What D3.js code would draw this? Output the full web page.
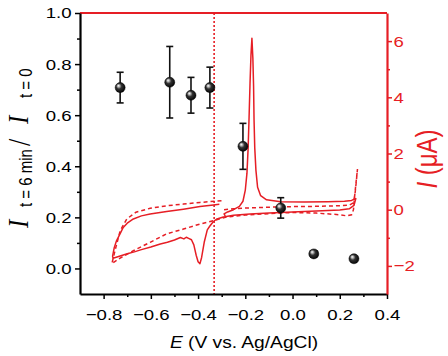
<!DOCTYPE html>
<html><head><meta charset="utf-8">
<script src="https://cdn.jsdelivr.net/npm/d3@7"></script>
<style>body{margin:0;background:#fff}svg{display:block}</style>
</head><body><svg id="c" width="448" height="356"></svg>
<script>
// ---- data ----
const ptE = [-0.73, -0.52, -0.43, -0.35, -0.21, -0.05, 0.09, 0.26];
const ptRatio = [0.708, 0.729, 0.678, 0.708, 0.478, 0.237, 0.057, 0.038];
const ptErr = [0.06, 0.14, 0.07, 0.08, 0.09, 0.04, 0.012, 0.0];

const solidE = [-0.285,-0.29,-0.275,-0.25,-0.225,-0.21,-0.2,-0.193,-0.188,-0.184,-0.18,-0.176,-0.172,-0.168,-0.165,-0.163,-0.16,-0.155,-0.148,-0.135,-0.11,-0.05,0.05,0.15,0.22,0.25,0.268,
  0.26,0.24,0.2,0.1,0.0,-0.1,-0.18,-0.25,-0.293,-0.32,-0.335,-0.35,-0.361,-0.374,-0.385,-0.392,-0.4,-0.408,-0.418,-0.428,-0.44,-0.45,-0.46,-0.475,-0.5,-0.53,-0.56,-0.6,-0.64,-0.67,-0.7,-0.73,-0.76,
  -0.762,-0.755,-0.745,-0.73,-0.717,-0.7,-0.674,-0.64,-0.603,-0.533,-0.462,-0.392,-0.335,-0.31];
const solidI = [-0.22,-0.15,-0.08,0.0,0.12,0.3,0.7,1.3,2.2,3.3,4.5,5.5,6.1,5.4,4.4,3.2,2.2,1.4,0.8,0.5,0.35,0.28,0.27,0.28,0.3,0.33,0.4,
  0.15,0.03,-0.01,-0.05,-0.08,-0.12,-0.15,-0.2,-0.26,-0.33,-0.42,-0.58,-0.72,-1.16,-1.7,-1.92,-1.85,-1.62,-1.25,-1.07,-1.02,-0.98,-1.04,-0.99,-1.08,-1.16,-1.22,-1.33,-1.42,-1.5,-1.57,-1.65,-1.73,
  -1.65,-1.35,-1.1,-0.85,-0.63,-0.48,-0.33,-0.22,-0.15,-0.06,0.02,0.11,0.17,0.19];

const dashE = [-0.29,-0.25,-0.2,-0.1,0.0,0.1,0.2,0.24,0.258,0.265,0.27,0.275,
  0.268,0.262,0.258,0.25,0.23,0.2,0.1,0.0,-0.1,-0.2,-0.28,-0.335,-0.392,-0.462,-0.533,-0.603,-0.674,-0.73,-0.765,
  -0.75,-0.73,-0.702,-0.663,-0.603,-0.533,-0.462,-0.392,-0.328,-0.3];
const dashI = [0.0,0.03,0.06,0.09,0.11,0.12,0.14,0.16,0.25,0.6,1.0,1.45,
  0.9,0.4,0.0,-0.18,-0.22,-0.18,-0.12,-0.1,-0.14,-0.19,-0.26,-0.39,-0.51,-0.69,-0.86,-1.16,-1.46,-1.72,-1.92,
  -1.4,-0.75,-0.33,-0.09,0.05,0.14,0.2,0.26,0.3,0.32];

const markerE = -0.332;
const xTicks = [-0.8,-0.6,-0.4,-0.2,0.0,0.2,0.4];
const xMinor = [-0.7,-0.5,-0.3,-0.1,0.1,0.3];
const yLTicks = [0.0,0.2,0.4,0.6,0.8,1.0];
const yLMinor = [0.1,0.3,0.5,0.7,0.9];
const yRTicks = [-2,0,2,4,6];
const yRMinor = [-1,1,3,5];

// ---- layout ----
const RED = "#e61e25";
const L = 80, R = 387, T = 13, B = 294;
const SX = 1.2; // horizontal stretch of the text in the picture
const svg = d3.select("#c");
const x = d3.scaleLinear([-0.9, 0.4], [L, R]);
const yL = d3.scaleLinear([-0.1, 1.0], [B, T]);
const yR = d3.scaleLinear([-3, 7], [B, T]);
const FONT = "'Liberation Sans', Arial, sans-serif";
const SERIF = "'Liberation Serif', 'Times New Roman', serif";

// top border
svg.append("line").attr("x1", L).attr("x2", R).attr("y1", T).attr("y2", T)
  .attr("stroke", RED).attr("stroke-width", 2);

// dotted marker
svg.append("line").attr("x1", x(markerE)).attr("x2", x(markerE)).attr("y1", T).attr("y2", B)
  .attr("stroke", RED).attr("stroke-width", 1.6).attr("stroke-dasharray", "2,2");

// CV curves
const line = d3.line().x(d => x(d[0])).y(d => yR(d[1]));
svg.append("path").datum(dashE.map((e, i) => [e, dashI[i]])).attr("d", line)
  .attr("fill", "none").attr("stroke", RED).attr("stroke-width", 1.5).attr("stroke-dasharray", "4,3");
svg.append("path").datum(solidE.map((e, i) => [e, solidI[i]])).attr("d", line)
  .attr("fill", "none").attr("stroke", RED).attr("stroke-width", 1.5).attr("stroke-linejoin", "round");

// axes
function styleAxis(g, color, w) {
  g.select(".domain").attr("stroke", color).attr("stroke-width", w);
  g.selectAll(".tick line").attr("stroke", color).attr("stroke-width", 1.5);
  g.selectAll(".tick text").attr("fill", color).style("font-family", FONT).style("font-size", "15.5px")
    .attr("transform", `scale(${SX},1)`);
}
function minor(g, color) {
  g.select(".domain").remove();
  g.selectAll(".tick line").attr("stroke", color).attr("stroke-width", 1.5);
}
minor(svg.append("g").attr("transform", `translate(0,${B})`)
  .call(d3.axisBottom(x).tickValues(xMinor).tickSize(3).tickSizeOuter(0).tickFormat("")), "#000");
const gx = svg.append("g").attr("transform", `translate(0,${B})`)
  .call(d3.axisBottom(x).tickValues(xTicks).tickSize(5).tickSizeOuter(0).tickFormat(d3.format(".1f")).tickPadding(10));
styleAxis(gx, "#000", 2.2);

minor(svg.append("g").attr("transform", `translate(${L},0)`)
  .call(d3.axisLeft(yL).tickValues(yLMinor).tickSize(3).tickSizeOuter(0).tickFormat("")), "#000");
const gy = svg.append("g").attr("transform", `translate(${L},0)`)
  .call(d3.axisLeft(yL).tickValues(yLTicks).tickSize(5).tickSizeOuter(0).tickFormat(d3.format(".1f")).tickPadding(2));
styleAxis(gy, "#000", 2.2);

minor(svg.append("g").attr("transform", `translate(${R},0)`)
  .call(d3.axisRight(yR).tickValues(yRMinor).tickSize(3).tickSizeOuter(0).tickFormat("")), RED);
const gr = svg.append("g").attr("transform", `translate(${R},0)`)
  .call(d3.axisRight(yR).tickValues(yRTicks).tickSize(5).tickSizeOuter(0).tickFormat(d3.format("d")).tickPadding(0.5));
styleAxis(gr, RED, 2.2);

// points with error bars
const defs = svg.append("defs");
const gr1 = defs.append("radialGradient").attr("id", "ball").attr("cx", "45%").attr("cy", "45%").attr("r", "60%").attr("fx", "32%").attr("fy", "30%");
gr1.append("stop").attr("offset", "0%").attr("stop-color", "#ffffff");
gr1.append("stop").attr("offset", "18%").attr("stop-color", "#bbbbbb");
gr1.append("stop").attr("offset", "45%").attr("stop-color", "#333");
gr1.append("stop").attr("offset", "100%").attr("stop-color", "#000");

const pts = ptE.map((e, i) => ({e, v: ptRatio[i], err: ptErr[i]}));
const eb = svg.append("g").attr("stroke", "#111").attr("stroke-width", 1.6);
pts.filter(d => d.err > 0).forEach(d => {
  const cx = x(d.e), y1 = yL(d.v + d.err), y2 = yL(d.v - d.err);
  eb.append("line").attr("x1", cx).attr("x2", cx).attr("y1", y1).attr("y2", y2);
  eb.append("line").attr("x1", cx - 3.5).attr("x2", cx + 3.5).attr("y1", y1).attr("y2", y1);
  eb.append("line").attr("x1", cx - 3.5).attr("x2", cx + 3.5).attr("y1", y2).attr("y2", y2);
});
svg.append("g").selectAll("circle").data(pts).join("circle")
  .attr("cx", d => x(d.e)).attr("cy", d => yL(d.v)).attr("r", 5)
  .attr("fill", "url(#ball)").attr("stroke", "#000").attr("stroke-width", 0.5);

// axis titles
const xt = svg.append("text").attr("transform", `translate(244,348) scale(${SX},1)`).attr("text-anchor", "middle")
  .style("font-family", FONT).style("font-size", "16px").attr("fill", "#000");
xt.append("tspan").attr("font-style", "italic").text("E");
xt.append("tspan").text(" (V vs. Ag/AgCl)");

const rt = svg.append("text").attr("transform", `translate(437,159) scale(${SX},1) rotate(-90)`).attr("text-anchor", "middle")
  .style("font-family", FONT).style("font-size", "24px").attr("fill", RED);
rt.append("tspan").attr("font-style", "italic").text("I");
rt.append("tspan").text(" (μA)");

// left title: pieces placed along the rotated reading axis
const lt = svg.append("g").attr("transform", `translate(28,147) scale(${SX},1) rotate(-90)`).attr("fill", "#000");
const part = (s, dy, txt, fam, size, italic) => lt.append("text").attr("x", s).attr("y", dy)
  .style("font-family", fam).style("font-size", size + "px").style("font-style", italic ? "italic" : "normal").text(txt);
part(-81, 0, "I", SERIF, 25, true);
part(-60, 3.5, "t = 6 min", FONT, 15, false);
part(1, 2, "/", SERIF, 26, false);
part(23, 0, "I", SERIF, 25, true);
part(49, 3.5, "t = 0", FONT, 15, false);
</script></body></html>
